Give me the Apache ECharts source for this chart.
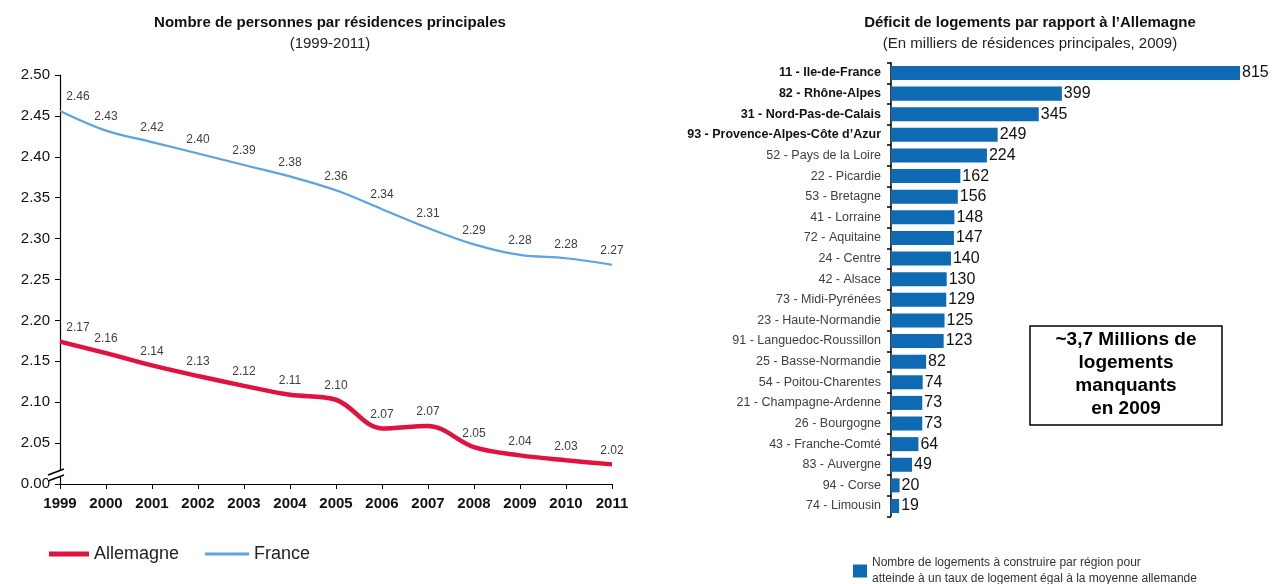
<!DOCTYPE html>
<html>
<head>
<meta charset="utf-8">
<script src="https://cdn.jsdelivr.net/npm/echarts@6/dist/echarts.min.js"></script>
<style>
html,body{margin:0;padding:0;background:#fff;}
#c{width:1276px;height:584px;}
</style>
</head>
<body>
<div id="c"></div>
<script>
// ---- Left chart data ----
const years = ['1999','2000','2001','2002','2003','2004','2005','2006','2007','2008','2009','2010','2011'];
const franceValues = [2.456, 2.432, 2.418, 2.404, 2.390, 2.376, 2.359, 2.336, 2.313, 2.293, 2.280, 2.276, 2.268];
const franceLabels = ['2.46','2.43','2.42','2.40','2.39','2.38','2.36','2.34','2.31','2.29','2.28','2.28','2.27'];
const allemagneValues = [2.174, 2.160, 2.145, 2.132, 2.120, 2.109, 2.103, 2.068, 2.071, 2.045, 2.035, 2.029, 2.024];
const allemagneLabels = ['2.17','2.16','2.14','2.13','2.12','2.11','2.10','2.07','2.07','2.05','2.04','2.03','2.02'];
const yMin = 2.00, yMax = 2.50, yInterval = 0.05;

// ---- Right chart data ----
const regions = ['11 - Ile-de-France','82 - Rhône-Alpes','31 - Nord-Pas-de-Calais','93 - Provence-Alpes-Côte d\u2019Azur',
  '52 - Pays de la Loire','22 - Picardie','53 - Bretagne','41 - Lorraine','72 - Aquitaine','24 - Centre','42 - Alsace',
  '73 - Midi-Pyrénées','23 - Haute-Normandie','91 - Languedoc-Roussillon','25 - Basse-Normandie','54 - Poitou-Charentes',
  '21 - Champagne-Ardenne','26 - Bourgogne','43 - Franche-Comté','83 - Auvergne','94 - Corse','74 - Limousin'];
const deficits = [815,399,345,249,224,162,156,148,147,140,130,129,125,123,82,74,73,73,64,49,20,19];
const boldCount = 4;
const barSeriesName = 'Nombre de logements à construire par région pour atteinde à un taux de logement égal à la moyenne allemande';

const RED = '#E0123F', BLUE = '#5BA3E2', BAR = '#0D6AB3';
const FONT = 'Liberation Sans, Arial, sans-serif';

const chart = echarts.init(document.getElementById('c'), null, {renderer:'canvas'});

const lineLabel = (labels) => ({
  show: true, position: 'top', distance: 8, fontSize: 12, color: '#404040', fontFamily: FONT,
  formatter: p => labels[p.dataIndex]
});

const option = {
  animation: false,
  textStyle: {fontFamily: FONT},
  title: [
    {text: 'Nombre de personnes par résidences principales', subtext: '(1999-2011)', left: 325, top: 10, textAlign: 'center',
     textStyle: {fontSize: 15, fontWeight: 'bold', color: '#111', fontFamily: FONT},
     subtextStyle: {fontSize: 15, color: '#222', fontFamily: FONT}, itemGap: 6},
    {text: 'Déficit de logements par rapport à l\u2019Allemagne', subtext: '(En milliers de résidences principales, 2009)', left: 1025, top: 10, textAlign: 'center',
     textStyle: {fontSize: 15, fontWeight: 'bold', color: '#111', fontFamily: FONT},
     subtextStyle: {fontSize: 15, color: '#222', fontFamily: FONT}, itemGap: 6}
  ],
  legend: [
    {data: ['Allemagne'], left: 44, top: 540, icon: 'rect', itemWidth: 40, itemHeight: 5, itemGap: 8,
     textStyle: {fontSize: 18, color: '#222', fontFamily: FONT}},
    {data: ['France'], left: 200, top: 540, icon: 'rect', itemWidth: 44, itemHeight: 3,
     textStyle: {fontSize: 18, color: '#222', fontFamily: FONT}},
    {data: [barSeriesName], left: 848, top: 550, icon: 'rect', itemWidth: 14, itemHeight: 13, itemGap: 10,
     formatter: () => 'Nombre de logements à construire par région pour\natteinde à un taux de logement égal à la moyenne allemande',
     textStyle: {fontSize: 12, color: '#333', lineHeight: 16, fontFamily: FONT}}
  ],
  grid: [
    {left: 60, width: 552, top: 75, height: 409},
    {left: 891, width: 349, top: 62.7, height: 453.6}
  ],
  xAxis: [
    {gridIndex: 0, type: 'category', data: years, boundaryGap: false,
     axisLine: {lineStyle: {color: '#000', width: 1.2}},
     axisTick: {show: true, length: 5, lineStyle: {color: '#000'}, alignWithLabel: true},
     axisLabel: {fontSize: 15, fontWeight: 'bold', color: '#111', margin: 12, fontFamily: FONT}},
    {gridIndex: 1, type: 'value', min: 0, max: 815, show: false}
  ],
  yAxis: [
    {gridIndex: 0, type: 'value', min: yMin, max: yMax, interval: yInterval,
     axisLine: {show: true, lineStyle: {color: '#000', width: 1.2}},
     axisTick: {show: true, length: 5, lineStyle: {color: '#000'}},
     splitLine: {show: false},
     axisLabel: {fontSize: 15, color: '#111', margin: 10, fontFamily: FONT,
       formatter: v => Math.abs(v - yMin) < 1e-9 ? '0.00' : v.toFixed(2)}},
    {gridIndex: 1, type: 'category', data: regions, inverse: true,
     axisLine: {show: true, lineStyle: {color: '#000', width: 1.5}},
     axisTick: {show: true, length: 4, lineStyle: {color: '#000', width: 1.5}},
     axisLabel: {fontSize: 12.5, color: '#404040', margin: 10, fontFamily: FONT,
       formatter: (v, i) => i < boldCount ? '{b|' + v + '}' : v,
       rich: {b: {fontSize: 12.5, fontWeight: 'bold', color: '#111', fontFamily: FONT}}}}
  ],
  series: [
    {name: 'Allemagne', type: 'line', xAxisIndex: 0, yAxisIndex: 0, data: allemagneValues,
     smooth: 0.35, symbol: 'circle', symbolSize: 0, showSymbol: true,
     lineStyle: {color: RED, width: 4.5}, itemStyle: {color: RED},
     label: lineLabel(allemagneLabels),
     labelLayout: p => p.dataIndex === 0 ? {dx: 18} : {}},
    {name: 'France', type: 'line', xAxisIndex: 0, yAxisIndex: 0, data: franceValues,
     smooth: 0.35, symbol: 'circle', symbolSize: 0, showSymbol: true,
     lineStyle: {color: BLUE, width: 2.2}, itemStyle: {color: BLUE},
     label: lineLabel(franceLabels),
     labelLayout: p => p.dataIndex === 0 ? {dx: 18} : {}},
    {name: barSeriesName, type: 'bar', xAxisIndex: 1, yAxisIndex: 1, data: deficits,
     barCategoryGap: '32%', itemStyle: {color: BAR},
     label: {show: true, position: 'right', distance: 2, fontSize: 16, color: '#111', fontFamily: FONT}}
  ],
  graphic: [
    // axis break symbol
    {type: 'polygon', shape: {points: [[48,475],[64,469],[64,475],[48,481]]}, style: {fill: '#fff'}, z: 100},
    {type: 'line', shape: {x1: 48, y1: 475, x2: 64, y2: 469}, style: {stroke: '#000', lineWidth: 1.4}, z: 101},
    {type: 'line', shape: {x1: 48, y1: 481, x2: 64, y2: 475}, style: {stroke: '#000', lineWidth: 1.4}, z: 101},
    // summary box
    {type: 'rect', shape: {x: 1030, y: 326, width: 192, height: 99}, style: {fill: '#fff', stroke: '#000', lineWidth: 1.5}, z: 50},
    {type: 'text', x: 1126, y: 328, z: 51,
     style: {text: '~3,7 Millions de\nlogements\nmanquants\nen 2009', fontSize: 19, fontWeight: 'bold', lineHeight: 23,
       textAlign: 'center', fill: '#000', fontFamily: FONT}}
  ]
};
chart.setOption(option);
</script>
</body>
</html>
